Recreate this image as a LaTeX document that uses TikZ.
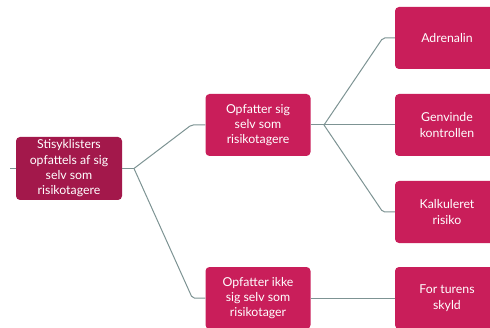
\documentclass[tikz,border=0pt]{standalone}
\usepackage{fontspec}
\setmainfont{Lato}
\definecolor{rootc}{HTML}{A3184B}
\definecolor{boxc}{HTML}{C91E5A}
\definecolor{linec}{HTML}{7D9393}
\begin{document}
\begin{tikzpicture}[x=1pt,y=1pt,
  box/.style={fill=boxc, rounded corners=4pt, text=white, align=center,
    minimum width=105pt, minimum height=62pt, inner sep=2pt,
    font=\fontsize{12.3}{15.3}\selectfont},
  rootbox/.style={box, fill=rootc, minimum width=106pt, minimum height=63pt},
  conn/.style={draw=linec, line width=1pt, rounded corners=2pt}]
\useasboundingbox (0,0) rectangle (490,327);
\clip (0,0) rectangle (490,327);
\node[rootbox] (root) at (69,158.5) {Stisyklisters\\opfattels af sig\\selv som\\risikotagere};
\node[box] (b2) at (258,202) {Opfatter sig\\selv som\\risikotagere};
\node[box] (b3) at (258,29) {Opfatter ikke\\sig selv som\\risikotager};
\node[box, minimum width=104pt] (r1) at (447,289) {Adrenalin};
\node[box, minimum width=104pt] (r2) at (447,202) {Genvinde\\kontrollen};
\node[box, minimum width=104pt] (r3) at (447,115) {Kalkuleret\\risiko};
\node[box, minimum width=104pt] (r4) at (447,29) {For turens\\skyld};
\coordinate (s) at (10,158.5);
\coordinate (j1) at (134,158.5);
\coordinate (j2) at (324,202);
\draw[conn] (s) -- (root.west);
\draw[conn] (root.east) -- (j1);
\draw[conn] (j1) -- ([xshift=-14pt]b2.west) -- (b2.west);
\draw[conn] (j1) -- ([xshift=-13pt]b3.west) -- (b3.west);
\draw[conn] (b2.east) -- (j2);
\draw[conn] (j2) -- ([xshift=-12pt]r1.west) -- (r1.west);
\draw[conn] (j2) -- (r2.west);
\draw[conn] (j2) -- ([xshift=-12pt]r3.west) -- (r3.west);
\draw[conn] (b3.east) -- (r4.west);
\end{tikzpicture}
\end{document}
